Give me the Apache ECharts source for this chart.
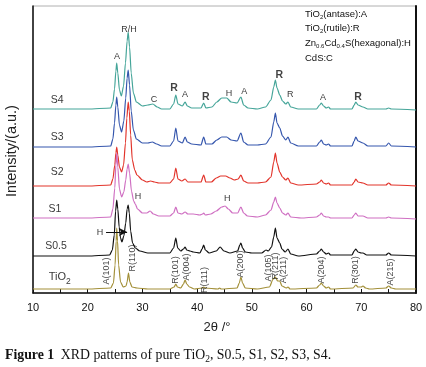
<!DOCTYPE html>
<html>
<head>
<meta charset="utf-8">
<script src="https://cdn.jsdelivr.net/npm/echarts@6/dist/echarts.min.js"></script>
<style>
  html, body { margin: 0; padding: 0; background: #fff; }
  #main { width: 426px; height: 367px; }
</style>
</head>
<body>
<div id="main"></div>
<script>
// XRD traces, [2theta, intensity] (intensity already stacked, a.u.)
var tio2 = [[10,4],[15,4],[20,4],[24.2,5],[24.7,10],[25.0,28],[25.2,52],[25.3,65],[25.45,52],[25.65,28],[26.0,11],[26.5,6],[27.0,7],[27.2,11],[27.45,20],[27.7,11],[28.1,6],[29,5],[31,4],[35,4],[35.8,6],[36.1,9],[36.4,6],[37.0,5],[37.5,9],[37.8,13],[38.1,9],[38.6,6],[39.5,4],[40.9,5],[41.2,6],[41.5,5],[43.8,4],[44.1,5],[44.4,4],[47.3,5],[47.7,10],[48.0,16],[48.3,10],[48.8,5],[51,4],[53.2,6],[53.9,14],[54.3,16],[54.7,12],[55.1,12],[55.5,7],[56.3,5],[56.6,6],[57.0,4],[61.8,5],[62.4,8],[62.7,10],[63.1,7],[63.6,5],[64.0,6],[64.4,4],[68.5,5],[69.0,8],[69.4,6],[70.0,6],[70.3,7],[70.8,5],[71.5,4],[74.5,5],[75.0,7],[75.5,5],[76.3,4],[80,4]];
var s05 = [[10,37],[20,37],[24.0,38],[24.5,43],[24.85,58],[25.1,82],[25.3,93],[25.5,84],[25.75,66],[26.0,55],[26.25,51],[26.6,57],[26.95,70],[27.2,84],[27.4,88],[27.6,80],[27.85,62],[28.2,50],[28.7,45],[29.5,42],[31,40],[33,40],[35.0,40],[35.7,45],[36.1,55],[36.45,45],[37.0,42],[37.5,44],[37.8,46],[38.1,43],[38.7,42],[39.3,41],[40.5,40],[40.9,44],[41.2,48],[41.5,43],[42.2,40],[43.5,42],[44.2,46],[44.9,42],[46,40],[47.4,42],[47.8,48],[48.0,50],[48.3,45],[48.8,41],[50,40],[51.8,40],[52.6,43],[53.0,42],[53.6,46],[54.0,56],[54.3,65],[54.6,55],[55.1,50],[55.5,44],[56.1,41],[56.6,44],[57.1,39],[58.5,37],[61.8,39],[62.4,42],[62.7,44],[63.1,41],[63.6,39],[64.0,40],[64.4,38],[68.3,38],[68.7,42],[69.0,44],[69.4,41],[70.0,40],[70.3,40],[71,38],[74.5,38],[75.0,40],[75.5,38],[80,37]];
var s1 = [[10,75],[20,75],[24.2,76],[24.6,84],[24.95,105],[25.15,128],[25.3,140],[25.5,126],[25.8,104],[26.2,96],[26.6,101],[26.95,113],[27.2,124],[27.4,129],[27.65,120],[28.0,102],[28.4,92],[28.7,89],[29.1,84],[30.0,80],[30.8,80],[31.4,82],[32.0,79],[33.0,77],[35.0,77],[35.7,80],[36.1,86],[36.5,80],[37.2,79],[37.8,81],[38.3,79],[39.3,79],[40.5,78],[41.0,79],[41.2,80],[41.5,78],[42.5,79],[43.5,82],[44.5,86],[45.1,87],[45.7,84],[46.5,80],[47.4,80],[48.0,86],[48.5,80],[49.2,77],[51,76],[52.5,78],[53.5,83],[54.0,91],[54.3,96],[54.6,90],[55.1,85],[55.6,80],[56.2,78],[56.6,80],[57.1,76],[59,75],[61.8,76],[62.4,78],[62.7,80],[63.1,77],[63.6,76],[64.0,76],[64.4,75],[68.3,75],[68.7,78],[69.0,80],[69.4,77],[70.3,77],[71.2,75],[74.5,75],[75.0,76],[75.5,75],[80,74]];
var s2 = [[10,107],[20,107],[24.2,108],[24.6,114],[24.95,128],[25.15,140],[25.3,146],[25.5,138],[25.8,126],[26.2,121],[26.55,128],[26.9,150],[27.15,175],[27.4,191],[27.6,182],[27.85,158],[28.15,133],[28.6,123],[29.0,118],[30.0,113],[30.8,111],[31.5,112],[32.2,111],[33.0,110],[35.0,110],[35.7,114],[36.1,125],[36.5,114],[37.2,112],[37.8,114],[38.3,111],[39.3,111],[40.7,111],[41.2,118],[41.6,111],[42.6,111],[43.5,115],[44.3,117],[45.2,117],[46.0,115],[46.8,113],[47.5,114],[48.0,118],[48.5,112],[49.3,110],[51,110],[52.5,111],[53.5,116],[54.0,131],[54.3,140],[54.6,130],[55.1,121],[55.6,116],[56.2,113],[56.6,115],[57.1,110],[58.5,108],[61.8,109],[62.4,111],[62.7,113],[63.1,110],[63.6,109],[64.0,110],[64.4,108],[68.3,108],[68.7,111],[69.0,114],[69.4,111],[70.3,110],[71.2,108],[74.5,108],[75.0,110],[75.5,108],[80,107]];
var s3 = [[10,146],[20,146],[24.2,147],[24.6,154],[24.9,170],[25.15,188],[25.3,196],[25.5,186],[25.8,168],[26.2,161],[26.6,172],[26.95,195],[27.2,215],[27.4,223],[27.65,208],[27.95,182],[28.35,163],[28.9,154],[30.0,150],[31.0,150],[31.8,151],[32.6,149],[33.5,147],[35.0,147],[35.7,152],[36.1,165],[36.5,152],[37.3,150],[37.8,156],[38.2,151],[39.0,149],[40.7,148],[41.2,156],[41.6,149],[42.7,149],[43.6,153],[44.5,156],[45.4,156],[46.2,153],[47.3,152],[48.0,160],[48.5,151],[49.3,148],[51,148],[52.5,149],[53.5,156],[54.0,171],[54.3,180],[54.6,170],[55.1,165],[55.6,157],[56.2,153],[56.6,156],[57.1,150],[58.5,147],[61.8,147],[62.4,151],[62.7,153],[63.1,149],[63.6,148],[64.0,149],[64.4,147],[68.3,147],[68.7,152],[69.0,156],[69.4,152],[70.3,150],[71.2,147],[74.5,147],[75.0,150],[75.5,147],[80,146]];
var s4 = [[10,184],[20,184],[24.2,185],[24.6,191],[24.9,204],[25.15,222],[25.3,230],[25.5,220],[25.8,203],[26.15,197],[26.55,207],[26.9,230],[27.2,252],[27.4,261],[27.65,246],[27.95,220],[28.35,200],[28.9,191],[30.0,187],[31.0,188],[31.9,189],[32.7,186],[33.5,184],[35.0,184],[35.7,189],[36.1,198],[36.5,189],[37.3,187],[37.8,191],[38.2,187],[39.0,185],[40.7,185],[41.2,190],[41.6,185],[42.7,186],[43.6,191],[44.5,195],[45.4,195],[46.2,191],[47.3,190],[48.0,196],[48.5,188],[49.3,185],[51,184],[52.5,186],[53.5,193],[54.0,206],[54.3,213],[54.6,205],[55.1,198],[55.6,192],[56.2,189],[56.6,191],[57.1,186],[58.5,184],[61.8,184],[62.4,188],[62.7,190],[63.1,187],[63.6,185],[64.0,186],[64.4,184],[68.3,184],[68.7,188],[69.0,191],[69.4,188],[70.3,186],[71.2,184],[74.5,184],[75.0,185],[75.5,184],[80,183]];

// annotations [2theta, intensity, text]
var peakLetters = [[25.36,236,'A'],[27.55,263,'R/H'],[32.1,193,'C'],[37.8,198,'A'],[45.8,199,'H'],[48.6,201,'A'],[57.0,198,'R'],[63.0,195,'A'],
                   [29.2,96,'H'],[45.5,94,'H'],[22.25,60,'H']];
var boldR = [[35.8,205,'R'],[41.6,196,'R'],[55.0,218,'R'],[69.4,196,'R']];
var phaseTags = [[23.5,22,'A(101)'],[28.1,35,'R(110)'],[36.0,23,'R(101)'],[38.0,26,'A(004)'],[41.3,13,'R(111)'],[48.0,29,'A(200)'],
                 [53.1,25,'A(105)'],[54.4,27,'R(211)'],[55.7,23,'A(211)'],[62.65,23,'A(204)'],[68.9,23,'R(301)'],[75.3,21,'A(215)']];
var sampleNames = [[14.4,193,'S4'],[14.4,156,'S3'],[14.4,121,'S2'],[14.0,84,'S1'],[14.2,47,'S0.5'],[14.9,16,'{a|TiO}{s|2}']];
var arrowH = [[23.35,61],[27.2,61]];
var xTicks = [10, 20, 30, 40, 50, 60, 70, 80];

var sans = '"Liberation Sans", Arial, sans-serif';
var serif = '"Liberation Serif", serif';
var chart = echarts.init(document.getElementById('main'));

function labelSeries(data, label) {
    return {
        type: 'scatter', symbolSize: 0, silent: true, z: 10,
        data: data,
        label: Object.assign({
            show: true, position: 'inside', color: '#000', fontFamily: sans,
            formatter: function (p) { return p.data[2]; }
        }, label)
    };
}

function trace(name, data, color) {
    return {
        name: name, type: 'line', data: data, showSymbol: false,
        smooth: 0.25, smoothMonotone: 'x',
        lineStyle: {color: color, width: 1.2}
    };
}

var series = [
    trace('S4', s4, '#45a599'),
    trace('S3', s3, '#3556ad'),
    trace('S2', s2, '#e2342b'),
    trace('S1', s1, '#cf6fc2'),
    trace('S0.5', s05, '#111111'),
    trace('TiO2', tio2, '#a39039'),
    labelSeries(peakLetters, {fontSize: 9}),
    labelSeries(boldR, {fontSize: 10.5, fontWeight: 'bold', color: '#111'}),
    labelSeries(phaseTags, {fontSize: 9, rotate: 90, color: '#111'}),
    labelSeries(sampleNames, {
        fontSize: 10.5, color: '#000',
        rich: {a: {fontSize: 11, fontFamily: sans, color: '#000'},
               s: {fontSize: 8.5, fontFamily: sans, color: '#000', padding: [9, 0, 0, 0]}}
    })
];
series[4].markLine = {
    silent: true, symbol: ['none', 'arrow'], symbolSize: [6, 8],
    label: {show: false},
    lineStyle: {color: '#111', width: 1, type: 'solid'},
    data: [[{coord: arrowH[0]}, {coord: arrowH[1]}]]
};

var legendRich = {
    t: {fontSize: 9.5, fontFamily: sans, fill: '#111'},
    s: {fontSize: 6, fontFamily: sans, fill: '#111', padding: [6, 0, 0, 0]}
};

var option = {
    animation: false,
    backgroundColor: '#fff',
    grid: {left: 33, right: 10, top: 6, bottom: 74, show: true, borderColor: '#b0b0b0', borderWidth: 1, outerBoundsMode: 'none'},
    xAxis: {
        type: 'value', min: 10, max: 80, interval: 10,
        axisLine: {lineStyle: {color: '#111', width: 1.5}},
        axisTick: {inside: true, length: 4, lineStyle: {color: '#111'}},
        minorTick: {show: true, splitNumber: 2, length: 4, lineStyle: {color: '#111'}},
        axisLabel: {color: '#111', fontSize: 11, fontFamily: sans, margin: 9,
            formatter: function (v) { return xTicks.indexOf(v) >= 0 ? v : ''; }},
        splitLine: {show: false}
    },
    yAxis: [{
        type: 'value', min: 0, max: 287,
        axisLine: {show: true, lineStyle: {color: '#111', width: 1.5}},
        axisTick: {show: false}, axisLabel: {show: false}, splitLine: {show: false}
    }, {
        type: 'value', min: 0, max: 287, position: 'right',
        axisLine: {show: true, lineStyle: {color: '#111', width: 2}},
        axisTick: {show: false}, axisLabel: {show: false}, splitLine: {show: false}
    }],
    graphic: [
        {type: 'text', left: 305, top: 9, style: {text: '{t|TiO}{s|2}{t|(antase):A}', rich: legendRich}},
        {type: 'text', left: 305, top: 23, style: {text: '{t|TiO}{s|2}{t|(rutile):R}', rich: legendRich}},
        {type: 'text', left: 305, top: 38, style: {text: '{t|Zn}{s|0.6}{t|Cd}{s|0.4}{t|S(hexagonal):H}', rich: legendRich}},
        {type: 'text', left: 305, top: 53, style: {text: '{t|CdS:C}', rich: legendRich}},
        {type: 'text', x: 12, y: 151, rotation: Math.PI / 2, style: {text: 'Intensity/(a.u.)', font: '14.5px ' + sans, fill: '#222', align: 'center', verticalAlign: 'middle'}},
        {type: 'text', x: 217, y: 327, style: {text: '2θ /°', font: '13px ' + sans, fill: '#222', align: 'center', verticalAlign: 'middle'}},
        {type: 'text', x: 5, y: 355, style: {
            text: '{b|Figure 1}  {n|XRD patterns of pure TiO}{s|2}{n|, S0.5, S1, S2, S3, S4.}',
            verticalAlign: 'middle',
            rich: {
                b: {fontSize: 13.8, fontWeight: 'bold', fontFamily: serif, fill: '#111'},
                n: {fontSize: 13.8, fontFamily: serif, fill: '#111'},
                s: {fontSize: 9.5, fontFamily: serif, fill: '#111', padding: [8, 0, 0, 0]}
            }
        }}
    ],
    series: series
};

chart.setOption(option);
</script>
</body>
</html>
